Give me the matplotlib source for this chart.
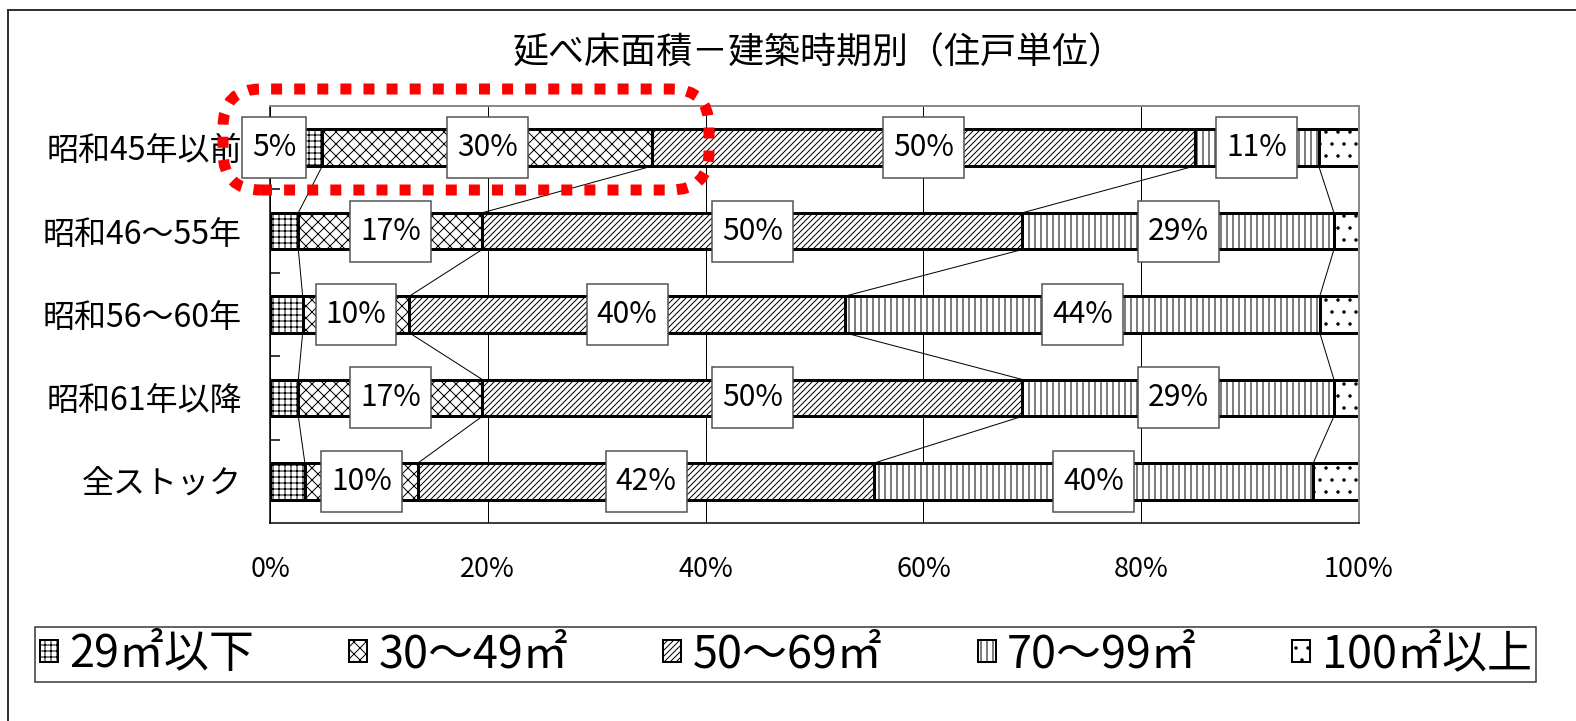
import matplotlib
matplotlib.use("Agg")
import matplotlib.pyplot as plt
import matplotlib.transforms as mtransforms
from matplotlib.patches import Rectangle, FancyBboxPatch, Patch
from matplotlib.lines import Line2D
import numpy as np

plt.rcParams['font.family'] = ['Noto Sans CJK JP', 'DejaVu Sans']
plt.rcParams['hatch.linewidth'] = 1.0

# ---- data ----
title = "延べ床面積－建築時期別（住戸単位）"
categories = ["昭和45年以前", "昭和46～55年", "昭和56～60年", "昭和61年以降", "全ストック"]
series_names = ["29㎡以下", "30～49㎡", "50～69㎡", "70～99㎡", "100㎡以上"]
s_29 = [4.8, 2.6, 3.0, 2.6, 3.2]
s_30_49 = [30.3, 16.9, 9.8, 16.9, 10.4]
s_50_69 = [49.8, 49.6, 40.0, 49.6, 41.9]
s_70_99 = [11.4, 28.6, 43.6, 28.6, 40.3]
s_100 = [3.7, 2.3, 3.6, 2.3, 4.2]
xticks = [0, 20, 40, 60, 80, 100]
xtick_labels = ["0%", "20%", "40%", "60%", "80%", "100%"]

series = [s_29, s_30_49, s_50_69, s_70_99, s_100]
hatches = ['++', 'xx', '////', '||', '.']

W, H, DPI = 1576, 721, 72
fig = plt.figure(figsize=(W / DPI, H / DPI), dpi=DPI)

def px(x0, y0, x1, y1):
    return [x0 / W, 1 - y1 / H, (x1 - x0) / W, (y1 - y0) / H]

ax = fig.add_axes(px(270, 106, 1359, 523))

n = len(categories)
y = np.arange(n)
bar_h = 0.44
data = np.array(series)          # shape (5 series, n cats)
lefts = np.vstack([np.zeros(n), np.cumsum(data, axis=0)[:-1]])
ends = np.cumsum(data, axis=0)

for k in range(len(series)):
    ax.barh(y, data[k], left=lefts[k], height=bar_h, facecolor='white',
            edgecolor='black', linewidth=3, hatch=hatches[k], zorder=2)

# series connector lines
for k in range(len(series) - 1):
    for i in range(n - 1):
        ax.plot([ends[k][i], ends[k][i + 1]], [y[i] + bar_h / 2, y[i + 1] - bar_h / 2],
                color='black', lw=1, zorder=1.5)

ax.set_xlim(0, 100)
ax.set_ylim(n - 0.5, -0.5)
ax.set_xticks(xticks, xtick_labels, fontsize=27)
ax.set_yticks(y, categories, fontsize=32)
ax.set_yticks(np.arange(n - 1) + 0.5, minor=True)
ax.tick_params(axis='x', length=0, pad=33)
ax.tick_params(axis='y', which='major', length=0, pad=28)
ax.tick_params(axis='y', which='minor', direction='in', length=10, width=1.5, color='black')
ax.xaxis.grid(True, color='black', lw=1)
ax.set_axisbelow(True)
for s in ['left', 'bottom']:
    ax.spines[s].set_linewidth(1.5)
    ax.spines[s].set_color('black')
for s in ['top', 'right']:
    ax.spines[s].set_linewidth(2)
    ax.spines[s].set_color('#8a8a8a')

# data labels
texts = []
for i in range(n):
    for k in range(len(series)):
        show = (k in (1, 2, 3)) or (k == 0 and i == 0)
        if not show:
            continue
        cx = lefts[k][i] + data[k][i] / 2
        if k == 0 and i == 0:
            cx = 0.4
        t = ax.text(cx, y[i], f"{data[k][i]:.0f}%", ha='center', va='center',
                    fontsize=30, zorder=6)
        texts.append(t)

fig.canvas.draw()
r = fig.canvas.get_renderer()
axw = ax.get_window_extent(r).width
axh = ax.get_window_extent(r).height
for t in texts:
    bb = t.get_window_extent(r)
    wpx = bb.width + 20
    hpx = 61
    cx, cy = t.get_position()
    wd = wpx / axw * 100
    hd = hpx / axh * n
    ax.add_patch(Rectangle((cx - wd / 2, cy - hd / 2), wd, hd, facecolor='white',
                           edgecolor='#505050', lw=1.5, zorder=5, clip_on=False))

# title
fig.text(819 / W, 1 - 54 / H, title, ha='center', va='center', fontsize=36)

# legend
handles = [Patch(facecolor='white', edgecolor='black', hatch=h, lw=2) for h in hatches]
fs = 45
leg = fig.legend(handles, series_names, ncol=5, mode='expand', loc='center',
                 bbox_to_anchor=px(35, 617, 1536, 691), fontsize=fs,
                 handlelength=0.4, handleheight=0.4, handletextpad=0.25,
                 borderpad=0.1, borderaxespad=0, fancybox=False, frameon=True)
leg.get_frame().set_edgecolor('black')
leg.get_frame().set_linewidth(1.5)

# red dotted highlight
hl = FancyBboxPatch((223, H - 190), 709 - 223, 190 - 89,
                    boxstyle='round,pad=0,rounding_size=38',
                    transform=mtransforms.IdentityTransform(),
                    facecolor='none', edgecolor='#ff0000', lw=11,
                    linestyle=(0, (1, 1.1)), capstyle='butt', zorder=10)
fig.add_artist(hl)

# outer frame (top and left visible)
fig.add_artist(Line2D([8 / W, 1], [1 - 10 / H, 1 - 10 / H], transform=fig.transFigure,
                      color='#333333', lw=2))
fig.add_artist(Line2D([8 / W, 8 / W], [1 - 10 / H, 0], transform=fig.transFigure,
                      color='#333333', lw=2))

fig.savefig("out.png", dpi=DPI)
